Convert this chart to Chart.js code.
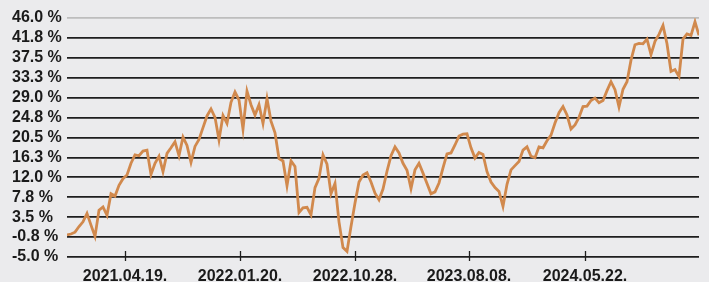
<!DOCTYPE html>
<html>
<head>
<meta charset="utf-8">
<script src="https://cdn.jsdelivr.net/npm/chart.js@4/dist/chart.umd.min.js"></script>
<style>
  body { margin: 0; background: #ebebed; }
  #wrap { width: 709px; height: 282px; }
</style>
</head>
<body>
<div id="wrap"><canvas id="myChart" width="709" height="282"></canvas></div>
<script>
'use strict';

// performance in %, one reading per step along the time axis
let perf = [
  -0.3, -0.1, 0.3, 1.5, 2.5, 4.3, 1.8, -0.6, 5.0, 5.7,
  3.9, 8.5, 8.0, 10.3, 11.7, 12.5, 15.0, 16.8, 16.6, 17.6,
  17.8, 12.6, 15.0, 16.5, 13.2, 17.1, 18.3, 19.6, 16.6, 20.6,
  18.8, 15.2, 18.6, 20.1, 22.6, 25.1, 26.6, 24.8, 20.0, 25.2,
  23.5, 28.0, 30.2, 28.5, 22.3, 30.4, 27.5, 25.3, 27.5, 23.5,
  28.8, 24.0, 21.5, 16.0, 15.5, 10.2, 15.5, 14.3, 4.5, 5.5,
  5.6, 4.0, 9.8, 11.8, 16.8, 14.8, 8.5, 10.7, 2.5, -3.0,
  -3.8, 1.5, 6.5, 11.0, 12.5, 13.0, 11.0, 8.6, 7.2, 9.5,
  13.3, 16.6, 18.5, 17.2, 15.0, 13.5, 9.6, 13.6, 15.0, 12.9,
  10.7, 8.5, 8.9, 10.8, 14.0, 17.0, 17.2, 18.9, 20.8, 21.2,
  21.3, 18.3, 16.1, 17.3, 16.9, 13.2, 11.0, 9.8, 9.0, 5.8,
  10.5, 13.6, 14.5, 15.4, 17.8, 18.5, 16.5, 16.2, 18.5, 18.3,
  19.8, 21.0, 23.6, 25.8, 27.1, 25.3, 22.3, 23.2, 24.8, 27.1,
  27.2, 28.4, 28.9, 27.9, 28.4, 30.5, 32.4, 30.7, 27.0, 30.8,
  32.4, 37.0, 40.3, 40.6, 40.5, 41.5, 38.2, 41.0, 42.5, 44.4,
  40.5, 34.6, 35.0, 33.5, 41.5, 42.6, 42.3, 45.2, 42.3
];

let dateLabels = ['2021.04.19.', '2022.01.20.', '2022.10.28.', '2023.08.08.', '2024.05.22.'];
let dateIndex = [14.5, 43.25, 72, 100.5, 129.5];

let yTicks = [-5.0, -0.75, 3.5, 7.75, 12.0, 16.25, 20.5, 24.75, 29.0, 33.25, 37.5, 41.75, 46.0];
let yTickLabels = ['-5.0 %', '-0.8 %', '3.5 %', '7.8 %', '12.0 %', '16.3 %', '20.5 %',
  '24.8 %', '29.0 %', '33.3 %', '37.5 %', '41.8 %', '46.0 %'];

let points = [];
for (let i = 0; i < perf.length; i++) {
  points.push({ x: i, y: perf[i] });
}

// x axis tick marks cross the bottom line
const tickMarks = {
  id: 'tickMarks',
  afterDraw(chart) {
    let ctx = chart.ctx;
    let xs = chart.scales.x;
    let bottom = chart.chartArea.bottom;
    ctx.save();
    ctx.strokeStyle = '#1e1e1e';
    ctx.lineWidth = 1.3;
    for (let i = 0; i < dateIndex.length; i++) {
      let px = Math.round(xs.getPixelForValue(dateIndex[i])) + 0.5;
      ctx.beginPath();
      ctx.moveTo(px, bottom - 6);
      ctx.lineTo(px, bottom + 4);
      ctx.stroke();
    }
    ctx.restore();
  }
};

let ctx = document.getElementById('myChart').getContext('2d');
let chart = new Chart(ctx, {
  type: 'line',
  data: {
    datasets: [{
      data: points,
      borderColor: '#d1894d',
      borderWidth: 2.8,
      pointRadius: 0,
      tension: 0,
      fill: false
    }]
  },
  options: {
    responsive: false,
    animation: false,
    layout: { padding: { left: 12, right: 10, top: 18, bottom: 0 } },
    plugins: { legend: { display: false }, tooltip: { enabled: false } },
    scales: {
      x: {
        type: 'linear',
        min: 0,
        max: perf.length - 1,
        afterBuildTicks(scale) {
          scale.ticks = dateIndex.map(v => ({ value: v }));
        },
        afterFit(scale) { scale.height = 25; },
        grid: { display: false, drawOnChartArea: false },
        border: { display: false },
        ticks: {
          autoSkip: false,
          maxRotation: 0,
          padding: 2,
          color: '#1a1a1a',
          font: { family: 'Liberation Sans', size: 16, weight: 'bold' },
          callback: function (v) {
            let k = dateIndex.indexOf(v);
            return k >= 0 ? dateLabels[k] : '';
          }
        }
      },
      y: {
        min: yTicks[0],
        max: yTicks[yTicks.length - 1],
        afterBuildTicks(scale) {
          scale.ticks = yTicks.map(v => ({ value: v }));
        },
        afterFit(scale) { scale.width = 55; },
        border: { display: false },
        grid: {
          drawTicks: false,
          lineWidth: 1.8,
          color: function (c) {
            return c.tick && c.tick.value === yTicks[yTicks.length - 1] ? '#bdbdbd' : '#1e1e1e';
          }
        },
        ticks: {
          autoSkip: false,
          crossAlign: 'far',
          padding: 6,
          color: '#1a1a1a',
          font: { family: 'Liberation Sans', size: 16, weight: 'bold' },
          callback: function (v) {
            let k = yTicks.indexOf(v);
            return k >= 0 ? yTickLabels[k] : '';
          }
        }
      }
    }
  },
  plugins: [tickMarks]
});
</script>
</body>
</html>
